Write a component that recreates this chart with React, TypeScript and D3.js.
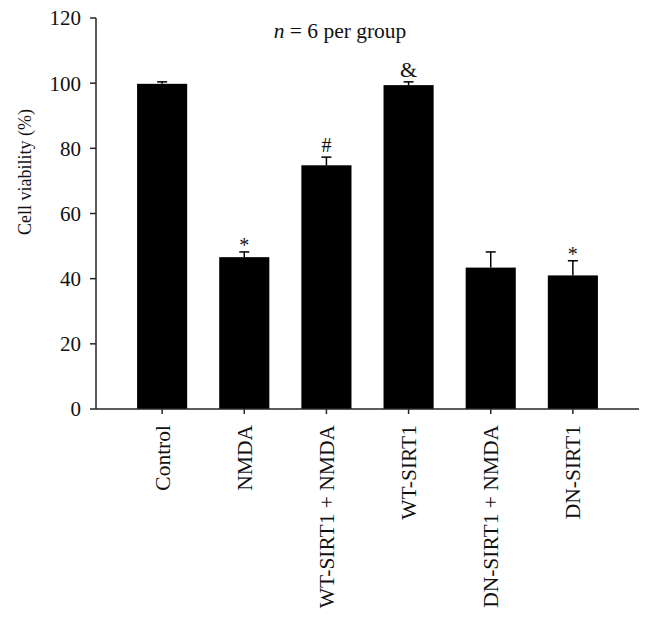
import * as d3 from "d3";

const groups = ["Control", "NMDA", "WT-SIRT1 + NMDA", "WT-SIRT1", "DN-SIRT1 + NMDA", "DN-SIRT1"];
const means = [99.8, 46.6, 74.8, 99.4, 43.4, 41.0];
const errors = [0.6, 1.6, 2.5, 1.0, 4.8, 4.5];
const marks = ["", "*", "#", "&", "", "*"];
const yTicks = [0, 20, 40, 60, 80, 100, 120];

const W = 652;
const H = 626;
const font = "'Liberation Serif', 'DejaVu Serif', serif";
const axisColor = "#262626";

export default function App() {
  const x = d3.scaleBand().domain(groups).range([96, 639]).paddingInner(0.39).paddingOuter(0.5);
  const y = d3.scaleLinear().domain([0, 120]).range([409, 18]);
  const bw = x.bandwidth();

  return (
    <svg width={W} height={H} style={{ position: "absolute", left: 0, top: 0, background: "#fff" }} fontFamily={font}>
      {/* bars */}
      {groups.map((g, i) => {
        const cx = x(g)! + bw / 2;
        const top = y(means[i]);
        const cap = y(means[i] + errors[i]);
        return (
          <g key={g}>
            <rect x={x(g)} y={top} width={bw} height={y(0) - top} fill="#000" />
            <line x1={cx} x2={cx} y1={top} y2={cap} stroke="#000" strokeWidth={1.5} />
            <line x1={cx - 5} x2={cx + 5} y1={cap} y2={cap} stroke="#000" strokeWidth={1.5} />
            {marks[i] && (
              <text x={cx} y={cap - (marks[i] === "*" ? 0 : 5)} textAnchor="middle" fontSize={marks[i] === "&" ? 22 : 20} fill="#111">
                {marks[i]}
              </text>
            )}
          </g>
        );
      })}

      {/* y axis */}
      <line x1={96} x2={96} y1={y(120)} y2={y(0)} stroke={axisColor} strokeWidth={1.5} />
      {yTicks.map((t) => (
        <g key={t}>
          <line x1={90} x2={96} y1={y(t)} y2={y(t)} stroke={axisColor} strokeWidth={1.5} />
          <text x={81} y={y(t)} dy="0.35em" textAnchor="end" fontSize={21} fill="#111">
            {t}
          </text>
        </g>
      ))}
      <text transform={`translate(31,${172}) rotate(-90)`} textAnchor="middle" fontSize={18} fill="#111">
        Cell viability (%)
      </text>

      {/* x axis */}
      <line x1={96} x2={639} y1={y(0)} y2={y(0)} stroke={axisColor} strokeWidth={1.5} />
      {groups.map((g) => {
        const cx = x(g)! + bw / 2;
        return (
          <g key={g}>
            <line x1={cx} x2={cx} y1={y(0)} y2={y(0) + 5} stroke={axisColor} strokeWidth={1.5} />
            <text transform={`translate(${cx},${425}) rotate(-90)`} dy="0.35em" textAnchor="end" fontSize={21.5} fill="#111">
              {g}
            </text>
          </g>
        );
      })}

      {/* annotation */}
      <text x={340} y={38} textAnchor="middle" fontSize={21.5} fill="#111">
        <tspan fontStyle="italic">n</tspan> = 6 per group
      </text>
    </svg>
  );
}
